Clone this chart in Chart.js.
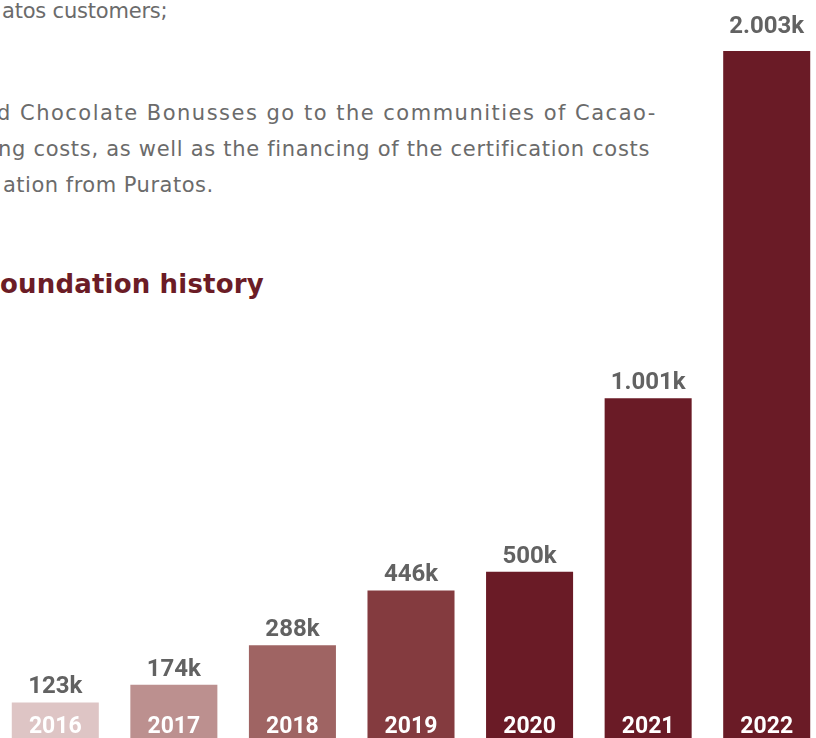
<!DOCTYPE html>
<html>
<head>
<meta charset="utf-8">
<script src="https://cdn.jsdelivr.net/npm/chart.js@4"></script>
<style>
  html, body { margin: 0; padding: 0; background: #fff; }
  body { width: 816px; height: 738px; overflow: hidden; position: relative; font-family: Roboto, sans-serif; }
  .txt { position: absolute; white-space: nowrap; color: #6b6b6b; font-family: "DejaVu Sans", sans-serif; font-size: 21px; line-height: 21px; }
  .title { position: absolute; white-space: nowrap; color: #6b1c26; font-family: "DejaVu Sans", sans-serif; font-weight: bold; font-size: 26px; line-height: 26px; letter-spacing: 0.18px; }
  #wrap { position: absolute; left: -4px; top: 0; width: 830px; height: 745px; }
</style>
</head>
<body>
<div class="txt" style="left:2px; top:1px; letter-spacing:-0.2px;">atos customers;</div>
<div class="txt" style="left:-3px; top:103px; letter-spacing:1.5px;">d Chocolate Bonusses go to the communities of Cacao-</div>
<div class="txt" style="left:-2px; top:139px; letter-spacing:0.7px;">ng costs, as well as the financing of the certification costs</div>
<div class="txt" style="left:3px; top:175px; letter-spacing:0.5px;">ation from Puratos.</div>
<div class="title" style="left:0px; top:271px;">oundation history</div>
<div id="wrap"><canvas id="myChart"></canvas></div>
<script>
var years = ['2016', '2017', '2018', '2019', '2020', '2021', '2022'];
var amounts = [123, 174, 288, 446, 500, 1001, 2003];
var valueLabels = ['123k', '174k', '288k', '446k', '500k', '1.001k', '2.003k'];
var barColors = ['#dec5c5', '#bc908f', '#9f6463', '#843b3f', '#6a1b26', '#6a1b26', '#6a1b26'];

// draws the value above each bar and the year inside the bar foot
var barLabels = {
  id: 'barLabels',
  afterDatasetsDraw: function(chart) {
    var c = chart.ctx;
    var meta = chart.getDatasetMeta(0);
    var bottom = chart.chartArea.bottom;
    c.save();
    c.textAlign = 'center';
    c.textBaseline = 'alphabetic';
    meta.data.forEach(function(bar, i) {
      c.fillStyle = '#626262';
      c.font = 'bold 24px Roboto';
      var y = bar.y - 9;
      if (bar.y < 60) y = 33;
      c.fillText(valueLabels[i], bar.x, y);
      c.fillStyle = '#ffffff';
      c.font = 'bold 23px Roboto';
      c.fillText(years[i], bar.x, bottom - 12);
    });
    c.restore();
  }
};

var ctx = document.getElementById('myChart').getContext('2d');
var myChart = new Chart(ctx, {
  type: 'bar',
  data: {
    labels: years,
    datasets: [{
      data: amounts,
      backgroundColor: barColors,
      borderWidth: 0,
      categoryPercentage: 1,
      barPercentage: 0.734
    }]
  },
  options: {
    responsive: true,
    maintainAspectRatio: false,
    animation: false,
    layout: { padding: 0 },
    plugins: {
      legend: { display: false },
      tooltip: { enabled: false }
    },
    scales: {
      x: { display: false },
      y: { display: false, min: 0, max: 2150 }
    }
  },
  plugins: [barLabels]
});
</script>
</body>
</html>
